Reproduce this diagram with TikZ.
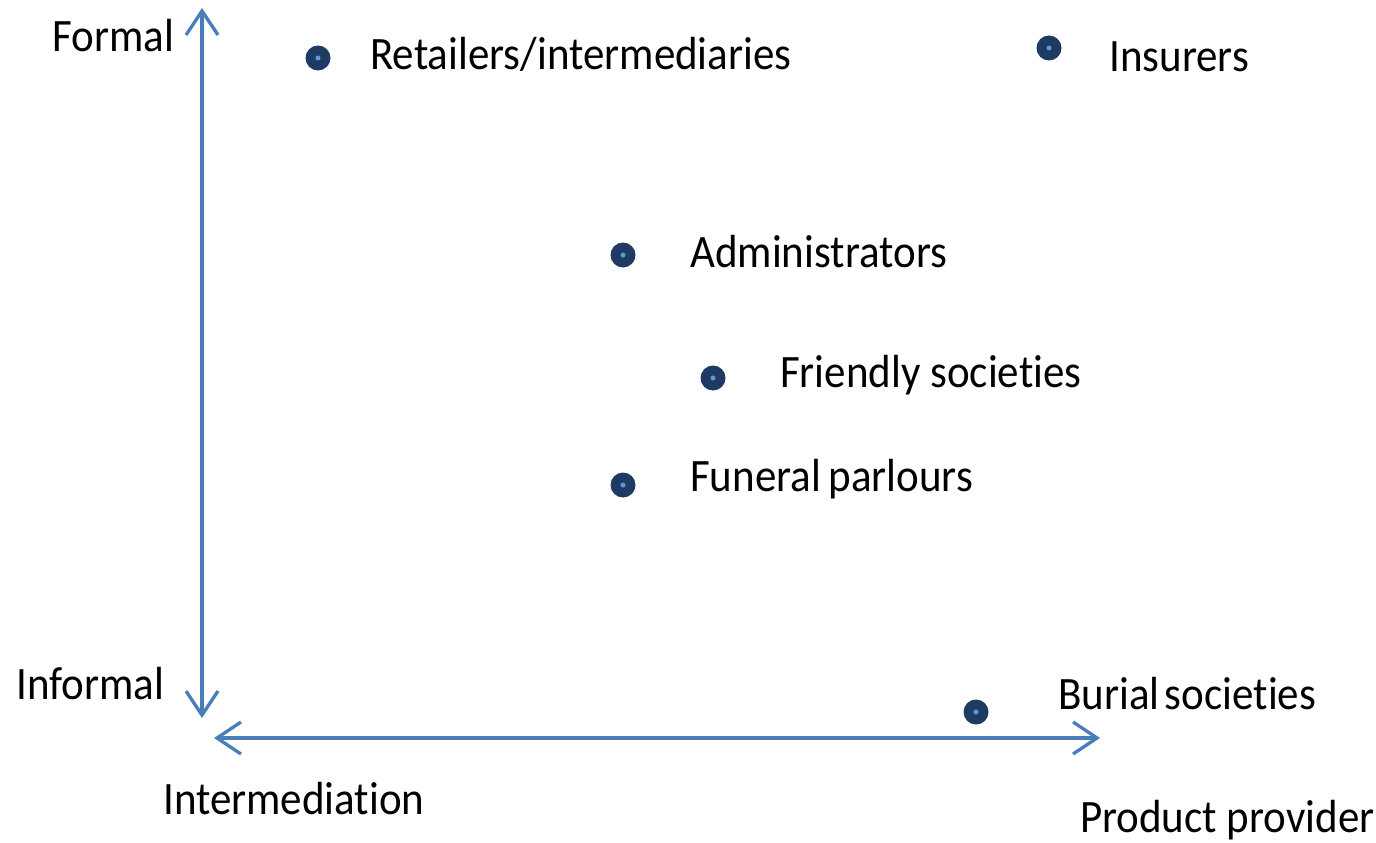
\documentclass[tikz,border=0pt]{standalone}
\usepackage{fontspec}
\setmainfont[Ligatures={NoCommon,NoRare,NoContextual}]{Carlito}
\usetikzlibrary{arrows.meta}
\definecolor{axisblue}{HTML}{4A7EBB}
\definecolor{dotnavy}{HTML}{1F3B63}
\definecolor{dotcore}{HTML}{5B9BD5}
\newcommand{\lbltext}[1]{\scalebox{1}[1.08]{#1}}
\tikzset{
  axis/.style={draw=axisblue, line width=3.3pt, {Straight Barb[length=24pt,width=32pt,line width=3.3pt]}-{Straight Barb[length=24pt,width=32pt,line width=3.3pt]}},
  lbl/.style={anchor=base west, inner sep=0pt, font=\fontsize{43}{48}\selectfont},
  pt/.style={circle, fill=dotnavy, minimum size=25pt, inner sep=0pt,
    path picture={\fill[dotcore] (path picture bounding box.center) circle (2.5pt);}}
}
\begin{document}
\begin{tikzpicture}[x=1pt,y=-1pt]
\useasboundingbox (0,0) rectangle (1376,843);
% axes
\coordinate (vtop) at (202,8);
\coordinate (vbot) at (202,718);
\coordinate (hl) at (214,738);
\coordinate (hr) at (1100,738);
\draw[axis] (vbot) -- (vtop);
\draw[axis] (hl) -- (hr);
% axis labels
\node[lbl] (formal) at (52,52) {\lbltext{Formal}};
\node[lbl] (informal) at (16,699) {\lbltext{Informal}};
\node[lbl] (interm) at (163,814) {\lbltext{Intermediation}};
\node[lbl] (prod) at (1080,832) {\lbltext{Product provider}};
% points
\node[pt] (d1) at (318,58) {};
\node[pt] (d2) at (1049,48) {};
\node[pt] (d3) at (623,255) {};
\node[pt] (d4) at (713,378) {};
\node[pt] (d5) at (623,485) {};
\node[pt] (d6) at (976,712) {};
% point labels
\node[lbl] (t1) at (370,70) {\lbltext{Retailers/intermediaries}};
\node[lbl] (t2) at (1109,71) {\lbltext{Insurers}};
\node[lbl] (t3) at (690,267) {\lbltext{Administrators}};
\node[lbl] (t4) at (780,387) {\lbltext{Friendly societ\kern0pt ies}};
\node[lbl] (t5) at (690,491) {\lbltext{Funeral\kern-0.05em\ parlours}};
\node[lbl] (t6) at (1058,709) {\lbltext{Burial\kern-0.1em\ societ\kern0pt ies}};
\end{tikzpicture}
\end{document}
